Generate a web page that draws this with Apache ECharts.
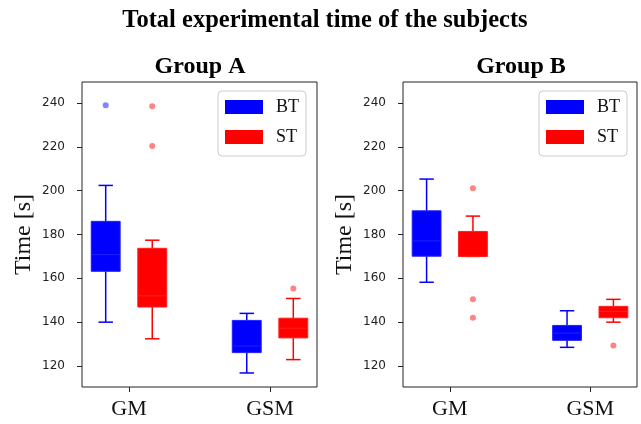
<!DOCTYPE html>
<html>
<head>
<meta charset="utf-8">
<script src="https://cdn.jsdelivr.net/npm/echarts@6/dist/echarts.min.js"></script>
<style>
  html, body { margin: 0; padding: 0; background: #fff; }
  #chart { width: 641px; height: 424px; }
</style>
</head>
<body>
<div id="chart"></div>
<script>
// box stats per category: [low whisker, Q1, median, Q3, high whisker]
var categories = ['GM', 'GSM'];
var yTicks = [120, 140, 160, 180, 200, 220, 240];

var groupA_BT = [[140, 163.2, 170.8, 186, 202.4], [116.8, 126.1, 129.1, 140.8, 144]];
var groupA_ST = [[132.4, 146.9, 152, 173.7, 177.4], [122.9, 132.8, 137.2, 141.8, 150.8]];
var groupA_BT_out = [[239], []];
var groupA_ST_out = [[238.5, 220.4], [155.3]];

var groupB_BT = [[158.2, 170.1, 177.1, 190.8, 205.3], [128.5, 131.7, 135, 138.5, 145.2]];
var groupB_ST = [[170, 170, 170, 181.4, 188.4], [140, 142, 144.9, 147.2, 150.4]];
var groupB_BT_out = [[], []];
var groupB_ST_out = [[201.1, 150.4, 142], [129.3]];

var BLUE = '#0000ff';
var RED = '#ff0000';
var BOX_W = 0.205;
var OFFSET = 0.165;

var serif = 'Liberation Serif';
var sans = 'DejaVu Sans';

function boxData(stats, off) {
  return stats.map(function (s, i) {
    return [i + 1 + off].concat(s);
  });
}
function outData(outs, off) {
  var res = [];
  outs.forEach(function (arr, i) {
    arr.forEach(function (v) { res.push([i + 1 + off, v]); });
  });
  return res;
}

function renderBox(color, medColor) {
  return function (params, api) {
    var x = api.value(0);
    var lo = api.coord([x, api.value(1)]);
    var q1 = api.coord([x, api.value(2)]);
    var md = api.coord([x, api.value(3)]);
    var q3 = api.coord([x, api.value(4)]);
    var hi = api.coord([x, api.value(5)]);
    var hw = api.size([BOX_W, 0])[0] / 2;
    var cw = hw / 2;
    var ls = { stroke: color, lineWidth: 1.5 };
    return {
      type: 'group',
      children: [
        { type: 'line', shape: { x1: lo[0], y1: lo[1], x2: q1[0], y2: q1[1] }, style: ls },
        { type: 'line', shape: { x1: q3[0], y1: q3[1], x2: hi[0], y2: hi[1] }, style: ls },
        { type: 'line', shape: { x1: lo[0] - cw, y1: lo[1], x2: lo[0] + cw, y2: lo[1] }, style: ls },
        { type: 'line', shape: { x1: hi[0] - cw, y1: hi[1], x2: hi[0] + cw, y2: hi[1] }, style: ls },
        { type: 'rect', shape: { x: q3[0] - hw, y: q3[1], width: hw * 2, height: q1[1] - q3[1] },
          style: { fill: color, stroke: medColor, lineWidth: 1 } },
        { type: 'line', shape: { x1: md[0] - hw, y1: md[1], x2: md[0] + hw, y2: md[1] },
          style: { stroke: medColor, lineWidth: 1 } }
      ]
    };
  };
}

var grids = [
  { left: 82, right: 324, top: 82, bottom: 37 },
  { left: 403, right: 4, top: 82, bottom: 37 }
];

function makeX(i) {
  return {
    type: 'value', gridIndex: i, min: 0.667, max: 2.333,
    splitLine: { show: false },
    axisLine: { show: false },
    axisTick: { show: true, length: 5, customValues: [1, 2], lineStyle: { color: '#222' } },
    axisLabel: {
      customValues: [1, 2], margin: 11,
      formatter: function (v) { return categories[Math.round(v) - 1] || ''; },
      fontFamily: serif, fontSize: 22, color: '#111'
    }
  };
}
function makeY(i) {
  return {
    type: 'value', gridIndex: i, min: 110.4, max: 249.6,
    name: 'Time [s]', nameLocation: 'middle', nameGap: 46,
    nameTextStyle: { fontFamily: serif, fontSize: 24, color: '#111' },
    splitLine: { show: false },
    axisLine: { show: false },
    axisTick: { show: true, length: 5, customValues: yTicks, lineStyle: { color: '#222' } },
    axisLabel: { customValues: yTicks, margin: 17, fontFamily: sans, fontSize: 12, color: '#222' }
  };
}

function makeLegend(left) {
  return {
    data: ['BT', 'ST'], orient: 'vertical', left: left, top: 91,
    icon: 'rect', itemWidth: 38, itemHeight: 14, itemGap: 12,
    padding: [7, 7, 10, 7],
    borderColor: '#cccccc', borderWidth: 1, borderRadius: 4, backgroundColor: '#fff',
    textStyle: { fontFamily: serif, fontSize: 18, color: '#111', lineHeight: 14, padding: [0, 0, 0, 8] }
  };
}

var series = [];
[[groupA_BT, groupA_ST, groupA_BT_out, groupA_ST_out], [groupB_BT, groupB_ST, groupB_BT_out, groupB_ST_out]]
  .forEach(function (g, i) {
    series.push({
      name: 'BT', type: 'custom', xAxisIndex: i, yAxisIndex: i,
      itemStyle: { color: BLUE },
      renderItem: renderBox(BLUE, '#2020ff'),
      encode: { x: 0, y: [1, 2, 3, 4, 5] },
      data: boxData(g[0], -OFFSET)
    });
    series.push({
      name: 'ST', type: 'custom', xAxisIndex: i, yAxisIndex: i,
      itemStyle: { color: RED },
      renderItem: renderBox(RED, '#ff2020'),
      encode: { x: 0, y: [1, 2, 3, 4, 5] },
      data: boxData(g[1], OFFSET)
    });
    series.push({
      name: 'BT out', type: 'scatter', xAxisIndex: i, yAxisIndex: i,
      symbolSize: 6, itemStyle: { color: '#6464ff' },
      data: outData(g[2], -OFFSET)
    });
    series.push({
      name: 'ST out', type: 'scatter', xAxisIndex: i, yAxisIndex: i,
      symbolSize: 6, itemStyle: { color: '#ff6464' },
      data: outData(g[3], OFFSET)
    });
  });

var dom = document.getElementById('chart');
var myChart = echarts.init(dom, null, { renderer: 'canvas' });

var option = {
  animation: false,
  backgroundColor: '#fff',
  title: [
    { text: 'Total experimental time of the subjects', left: 320, top: 3, textAlign: 'center',
      textStyle: { fontFamily: serif, fontSize: 24.5, fontWeight: 'bold', color: '#000' } },
    { text: 'Group A', left: 195, top: 50, textAlign: 'center',
      textStyle: { fontFamily: serif, fontSize: 24, fontWeight: 'bold', color: '#000' } },
    { text: 'Group B', left: 516, top: 50, textAlign: 'center',
      textStyle: { fontFamily: serif, fontSize: 24, fontWeight: 'bold', color: '#000' } }
  ],
  legend: [makeLegend(218), makeLegend(539)],
  grid: grids.map(function (g) {
    return Object.assign({ show: true, borderColor: '#222', borderWidth: 1, containLabel: false }, g);
  }),
  xAxis: [makeX(0), makeX(1)],
  yAxis: [makeY(0), makeY(1)],
  series: series
};

myChart.setOption(option);
window.addEventListener('resize', myChart.resize);
</script>
</body>
</html>
